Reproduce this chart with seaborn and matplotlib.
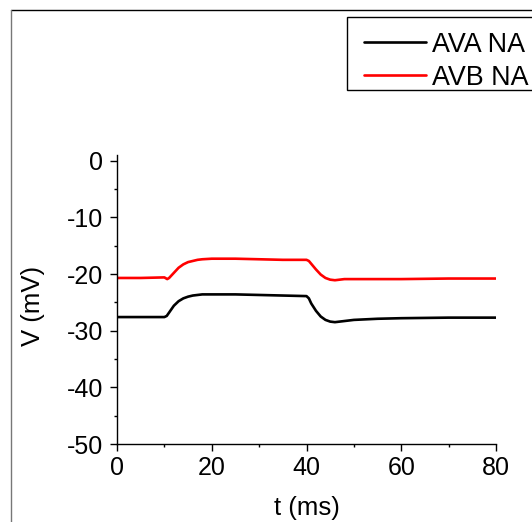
import matplotlib
matplotlib.use("Agg")
import matplotlib.pyplot as plt
import seaborn as sns
import pandas as pd
from matplotlib.lines import Line2D
from matplotlib.patches import Rectangle
from matplotlib.ticker import MultipleLocator

# ---- data ----
t_ava = [0, 5, 10, 10.5, 11, 12, 13, 14, 15, 16, 17, 18, 20, 25, 30, 35, 40, 40.5, 41, 42, 43, 44, 45, 46, 47, 48, 50, 55, 60, 70, 80]
v_ava = [-27.6, -27.6, -27.6, -27.4, -26.8, -25.6, -24.8, -24.3, -24.0, -23.8, -23.7, -23.6, -23.6, -23.6, -23.7, -23.8, -23.9,
         -24.3, -25.2, -26.5, -27.5, -28.1, -28.4, -28.5, -28.4, -28.3, -28.1, -27.9, -27.8, -27.7, -27.7]
t_avb = [0, 5, 10, 10.6, 11, 12, 13, 14, 15, 16, 17, 18, 20, 25, 30, 35, 40, 40.5, 41, 42, 43, 44, 45, 46, 47, 48, 50, 55, 60, 70, 80]
v_avb = [-20.7, -20.7, -20.6, -20.9, -20.7, -19.8, -18.9, -18.3, -17.9, -17.7, -17.5, -17.4, -17.3, -17.3, -17.4, -17.5, -17.5,
         -17.7, -18.2, -19.2, -20.1, -20.7, -21.0, -21.1, -21.0, -20.9, -20.9, -20.9, -20.9, -20.8, -20.8]
series_names = ["AVA NA", "AVB NA"]
series_colors = ["#000000", "#ff0000"]
x_ticks = [0, 20, 40, 60, 80]
y_ticks = [0, -10, -20, -30, -40, -50]

df = pd.concat([
    pd.DataFrame({"t": t_ava, "V": v_ava, "series": series_names[0]}),
    pd.DataFrame({"t": t_avb, "V": v_avb, "series": series_names[1]}),
])

sns.set_theme(style="ticks")
plt.rcParams["font.family"] = ["Liberation Sans", "DejaVu Sans"]
plt.rcParams["axes.unicode_minus"] = False
plt.rcParams["text.color"] = "black"
plt.rcParams["axes.labelcolor"] = "black"
plt.rcParams["xtick.color"] = "black"
plt.rcParams["ytick.color"] = "black"

W, H = 532, 522
fig = plt.figure(figsize=(W / 100, H / 100), dpi=100)
ax = fig.add_axes([117 / W, 1 - 444 / H, (496 - 117) / W, (444 - 155) / H])

sns.lineplot(data=df, x="t", y="V", hue="series", palette=dict(zip(series_names, series_colors)),
             linewidth=1.9, ax=ax, legend=False, sort=False)

ax.set_xlim(0, 80)
ax.set_ylim(-50, 1)
ax.set_xticks(x_ticks)
ax.set_yticks(y_ticks)
ax.xaxis.set_minor_locator(MultipleLocator(10))
ax.yaxis.set_minor_locator(MultipleLocator(5))
for s in ["top", "right"]:
    ax.spines[s].set_visible(False)
for s in ["left", "bottom"]:
    ax.spines[s].set_linewidth(1.0)
    ax.spines[s].set_color("black")
ax.tick_params(axis="both", which="major", length=4.8, width=1.0, color="black", labelcolor="black", labelsize=18)
ax.tick_params(axis="both", which="minor", length=2.4, width=1.0, color="black")
ax.tick_params(axis="x", which="major", pad=3.5)
ax.tick_params(axis="y", which="major", pad=5)
ax.set_xlabel("t (ms)", fontsize=18.5, color="black")
ax.set_ylabel("V (mV)", fontsize=18.5, color="black")
ax.xaxis.set_label_coords(0.5, -(496 - 444) / (444 - 155))
ax.yaxis.set_label_coords(-(117 - 45) / (496 - 117), (444 - 306) / (444 - 155))

# legend, cropped at the right edge like the reference
fig.add_artist(Rectangle((347 / W, 1 - 90 / H), 0.5, (90 - 17) / H, transform=fig.transFigure,
                         facecolor="white", edgecolor="black", linewidth=1.0))
handles = [Line2D([], [], color=c, linewidth=1.9) for c in series_colors]
leg = fig.legend(handles, series_names, loc="upper left", bbox_to_anchor=(364 / W, 1 - 31.5 / H),
                 fontsize=19.4, frameon=False, handlelength=2.3, handletextpad=0.23,
                 borderpad=0, labelspacing=0.27, borderaxespad=0)
for txt in leg.get_texts():
    txt.set_color("black")

# outer frame (top and left visible)
fig.add_artist(Line2D([11 / W, 1], [1 - 10 / H, 1 - 10 / H], transform=fig.transFigure, color="black", linewidth=1.0))
fig.add_artist(Line2D([11 / W, 11 / W], [0, 1 - 10 / H], transform=fig.transFigure, color="#777777", linewidth=1.0))

fig.savefig("out.png", dpi=100)
